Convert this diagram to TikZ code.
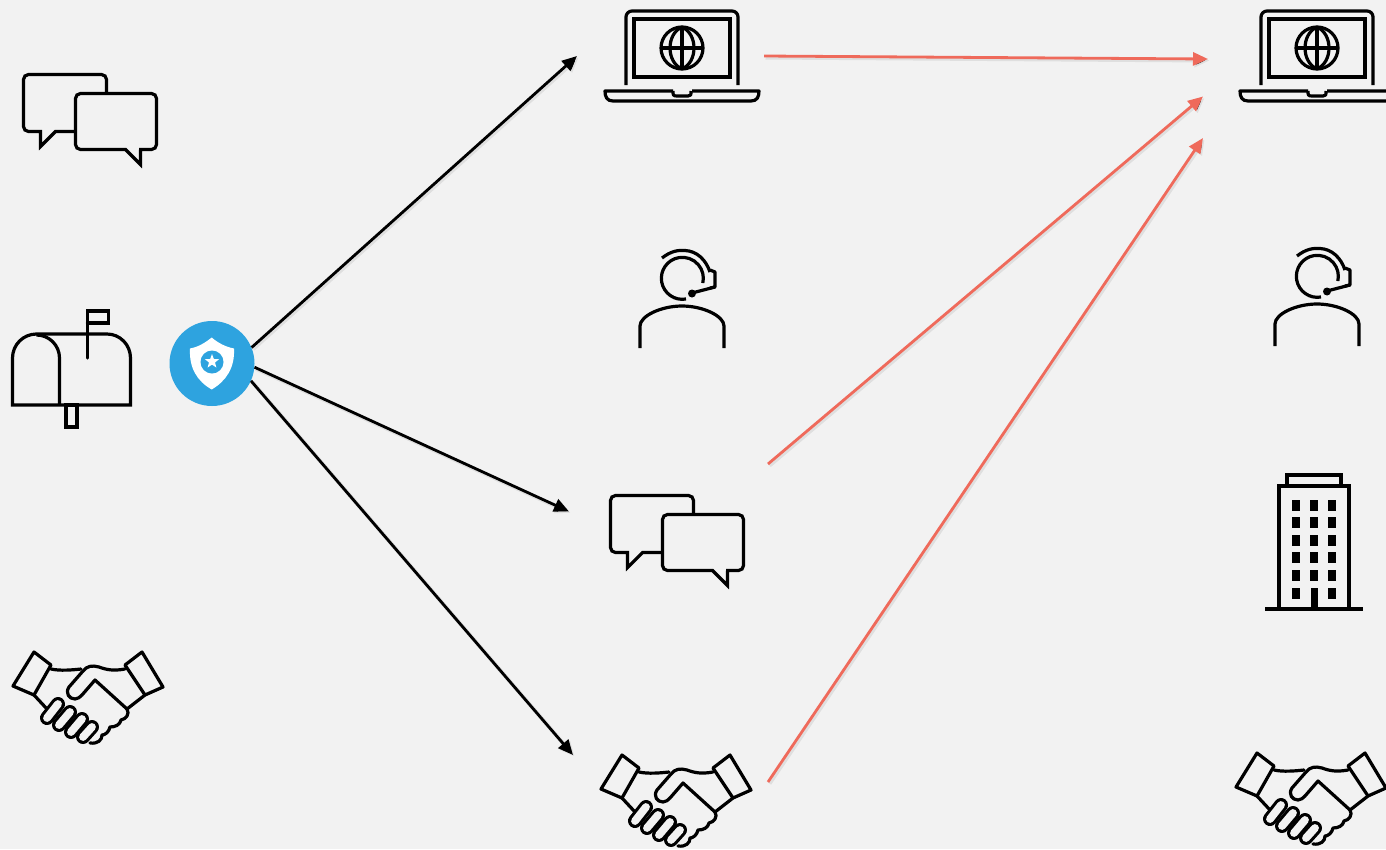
\documentclass[tikz,border=0pt]{standalone}
\usetikzlibrary{arrows.meta,shapes.geometric}
\definecolor{bgc}{HTML}{F2F2F2}
\definecolor{hubc}{HTML}{2EA3DF}
\definecolor{redc}{HTML}{EF6A5B}
\tikzset{
  x=1pt,y=-1pt,
  icon/.style={line width=3.2pt,black,line join=miter},
  conn/.style={line width=2.8pt,-{Triangle[length=15pt,width=13pt]},
     preaction={draw=black,draw opacity=.08,line width=4pt,transform canvas={shift={(1.5pt,-1.5pt)}}}},
  blackconn/.style={conn,draw=black},
  redconn/.style={conn,draw=redc},
  chat/.pic={
    \draw[icon] (62,68)--(42,68)--(27,83)--(27,68)[rounded corners=5pt]--(10,68)--(10,11)--(93,11)--(93,30);
    \draw[icon] (127,86)--(127,101)--(112,86)[rounded corners=5pt]--(62,86)--(62,30)--(143,30)--(143,86)--(125.5,86);
  },
  shake/.pic={
    \draw[icon,line join=round] (32,15)--(49,28)--(32,58)--(11,49)--cycle;
    \draw[icon,line join=round] (140,15)--(123,28)--(143,58)--(161,50)--cycle;
    \draw[icon,line cap=round] (49,32) .. controls (58,34) and (70,33) .. (79,32);
    \draw[icon,line join=round,line cap=round] (123,32) .. controls (112,34) and (105,33) .. (97,30)
       .. controls (90,28) and (85,29) .. (81,34) -- (67,50) .. controls (63,56) and (67,62) .. (73,62)
       .. controls (76,62) and (78,60) .. (80,58) -- (93,43) -- (125,72);
    \draw[icon,line cap=round] (32,58)--(45,72);
    \draw[icon,line cap=round] (143,58)--(125,72);
    \draw[icon,line cap=round,line join=round] (125,72) .. controls (128,77) and (124,82) .. (119,83)
       .. controls (118,88) and (113,90) .. (108,90) .. controls (107,95) and (103,98) .. (100,98)
       .. controls (100,103) and (96,107) .. (88,106);
    \foreach \ax/\ay/\bx/\by in {56/67/45/81, 68/75/57/88, 80/82/69/95, 90/90/81/100}{
      \draw[line width=14pt,line cap=round,black] (\ax,\ay)--(\bx,\by);
      \draw[line width=7.8pt,line cap=round,bgc] (\ax,\ay)--(\bx,\by);
    }
  },
  laptop/.pic={
    \draw[icon,rounded corners=6pt] (31,85)--(31,11)--(143,11)--(143,85);
    \draw[icon] (39,19) rectangle (135,77);
    \draw[icon] (87,48) circle (21);
    \draw[icon] (66,48)--(108,48) (87,27)--(87,69);
    \draw[icon] (87,27) .. controls (71,34) and (71,62) .. (87,69);
    \draw[icon] (87,27) .. controls (103,34) and (103,62) .. (87,69);
    \draw[icon,line join=round] (78,91)--(10,91) .. controls (10,97) and (12,101) .. (18,101)--(156,101) .. controls (162,101) and (164,97) .. (164,91)--(97,91);
    \draw[icon,line join=round] (78,91) .. controls (78,95) and (78,96) .. (82,96)--(93,96) .. controls (96,96) and (96,95) .. (96,91);
  },
  agent/.pic={
    \draw[icon] (61,59) arc[start angle=80,end angle=373,radius=21];
    \draw[icon] (37,18) .. controls (46,11) and (53,10) .. (60,10.5) .. controls (72,11) and (81,20) .. (85,32);
    \draw[icon,line join=round] (85,30)--(90,32)--(90,47)--(85,48);
    \draw[icon] (67,53)--(90,47);
    \fill (67,53.5) circle (4);
    \draw[icon] (15,108)--(15,86) .. controls (15,76) and (36,66) .. (57,66) .. controls (78,66) and (99,76) .. (99,86)--(99,108);
  },
  building/.pic={
    \draw[icon] (32,21)--(32,10)--(86,10)--(86,21);
    \draw[icon] (24,143)--(24,21)--(94,21)--(94,143);
    \draw[icon,line width=3.4pt] (10,144)--(108,144);
    \foreach \yy in {35,52,70,87,105,123}{
      \fill (37,\yy) rectangle (45,\yy+11);
      \fill (73,\yy) rectangle (81,\yy+11);
    }
    \foreach \yy in {35,52,70,87,105}{\fill (55,\yy) rectangle (63,\yy+11);}
    \fill (55.5,122.5) rectangle (62.5,144);
  },
  mailbox/.pic={
    \draw[icon] (12.5,115) -- (12.5,68) arc[start angle=180,end angle=270,radius=24]
       -- (107,44) arc[start angle=270,end angle=360,x radius=23.5,y radius=24] -- (130.5,115) -- cycle;
    \draw[icon] (59.5,115)--(59.5,68) arc[start angle=0,end angle=-90,radius=23];
    \draw[icon] (66,115) rectangle (77,137);
    \draw[icon,line cap=round] (87.5,68)--(87.5,21)--(108.5,21)--(108.5,33)--(87.5,33);
  },
}
\begin{document}
\begin{tikzpicture}
\useasboundingbox (0,0) rectangle (1386,849);
\fill[bgc] (0,0) rectangle (1386,849);
% icons
\pic (chatLeft) at (13.5,63.5) {chat};
\pic (mailLeft) at (0,290) {mailbox};
\pic (shakeLeft) at (2,637) {shake};
\pic (laptopMid) at (595,0) {laptop};
\pic (agentMid) at (625,240) {agent};
\pic (chatMid) at (600.5,484.5) {chat};
\pic (shakeMid) at (590,740) {shake};
\pic (laptopRight) at (1230,0) {laptop};
\pic (agentRight) at (1260,238) {agent};
\pic (buildingRight) at (1255,465) {building};
\pic (shakeRight) at (1225,738) {shake};
% hub
\node[circle,fill=hubc,minimum size=85pt,inner sep=0pt] (hub) at (212,363.5) {};
\fill[white] (211.7,337.5) .. controls (218,343) and (226,347) .. (234,348.5)
   .. controls (235,368) and (226,381) .. (211.7,389.5)
   .. controls (197,381) and (189,368) .. (190,348.5)
   .. controls (198,347) and (205,343) .. (211.7,337.5) -- cycle;
\fill[hubc] (212,362) circle (11.5);
\node[star,star points=5,star point ratio=2.4,fill=white,minimum size=15pt,inner sep=0pt] (hubstar) at (212,361.5) {};
% connector ends
\coordinate (endLaptop) at (577,56);
\coordinate (endChat) at (569,511.5);
\coordinate (endShake) at (573,755);
\coordinate (srcLaptop) at (764,56);
\coordinate (srcChat) at (768,464);
\coordinate (srcShake) at (768,782);
\coordinate (dstA) at (1208,59);
\coordinate (dstB) at (1203,96.5);
\coordinate (dstC) at (1203,138);
\draw[blackconn] (hub.22) -- (endLaptop);
\draw[blackconn] (hub.-5) -- (endChat);
\draw[blackconn] (hub.-24) -- (endShake);
\draw[redconn] (srcLaptop) -- (dstA);
\draw[redconn] (srcChat) -- (dstB);
\draw[redconn] (srcShake) -- (dstC);
\end{tikzpicture}
\end{document}
